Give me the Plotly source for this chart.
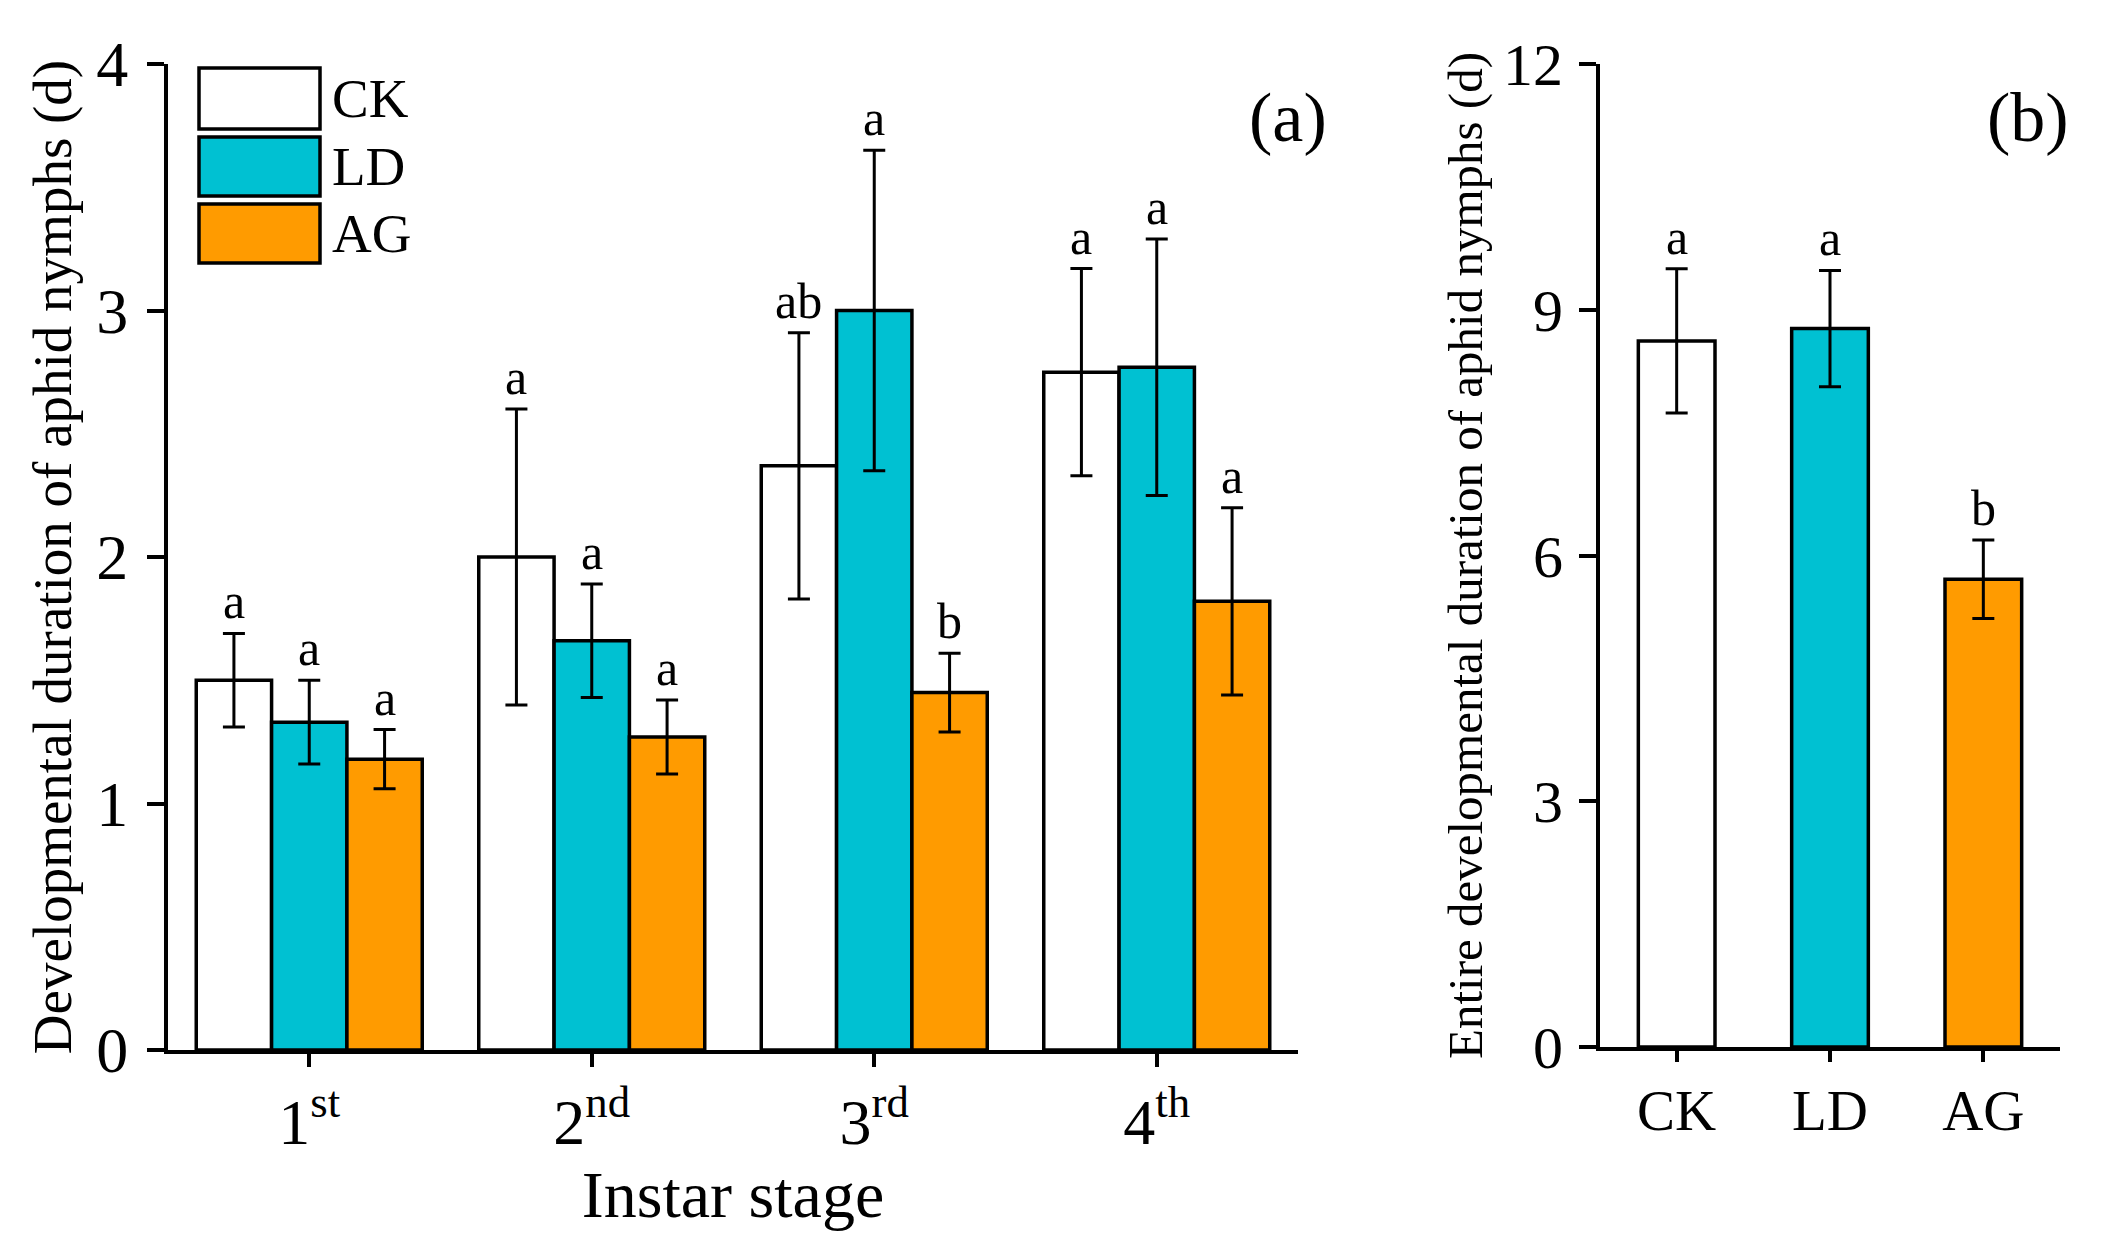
import plotly.graph_objects as go

# Panel (a): developmental duration per instar stage (mean, SE)
stages = ['1<sup>st</sup>', '2<sup>nd</sup>', '3<sup>rd</sup>', '4<sup>th</sup>']
treatments = ['CK', 'LD', 'AG']
colors = ['#FFFFFF', '#00C1D2', '#FF9B00']

ck_mean = [1.50, 2.00, 2.37, 2.75]
ck_err = [0.19, 0.60, 0.54, 0.42]
ck_letters = ['a', 'a', 'ab', 'a']

ld_mean = [1.33, 1.66, 3.00, 2.77]
ld_err = [0.17, 0.23, 0.65, 0.52]
ld_letters = ['a', 'a', 'a', 'a']

ag_mean = [1.18, 1.27, 1.45, 1.82]
ag_err = [0.12, 0.15, 0.16, 0.38]
ag_letters = ['a', 'a', 'b', 'a']

# Panel (b): entire developmental duration of nymphs
total_mean = [8.62, 8.77, 5.71]
total_err = [0.88, 0.71, 0.48]
total_letters = ['a', 'a', 'b']

FONT = 'Liberation Serif'
PAD = 8                      # page body margin of the html file
W, H = 2106 - 2 * PAD, 1253 - 2 * PAD
bargap = 0.2
bar_w = (1 - bargap) / 3


def px(x):
    return (x - PAD) / W


def py(y):
    return 1 - (y - PAD) / H


fig = go.Figure()

series = [(ck_mean, ck_err, ck_letters), (ld_mean, ld_err, ld_letters), (ag_mean, ag_err, ag_letters)]
annotations = []
for j, (m, e, lett) in enumerate(series):
    fig.add_trace(go.Bar(
        x=list(range(len(stages))), y=m, name=treatments[j],
        marker=dict(color=colors[j], line=dict(color='black', width=3.5)),
        error_y=dict(type='data', array=e, color='black', thickness=3, width=11),
        xaxis='x', yaxis='y', showlegend=False))
    # letters above the error bars
    for i in range(len(stages)):
        annotations.append(dict(
            x=i + (j - 1) * bar_w, y=m[i] + e[i], xref='x', yref='y',
            text=lett[i], showarrow=False, yanchor='bottom', yshift=2,
            font=dict(family=FONT, size=50, color='black')))

fig.add_trace(go.Bar(
    x=list(range(len(treatments))), y=total_mean, width=0.5,
    marker=dict(color=colors, line=dict(color='black', width=3.5)),
    error_y=dict(type='data', array=total_err, color='black', thickness=3, width=11),
    xaxis='x2', yaxis='y2', showlegend=False))
for i in range(len(treatments)):
    annotations.append(dict(
        x=i, y=total_mean[i] + total_err[i], xref='x2', yref='y2',
        text=total_letters[i], showarrow=False, yanchor='bottom', yshift=2,
        font=dict(family=FONT, size=50, color='black')))

# hand-made legend (large boxes as in the original)
legend_y = [(68, 129), (137, 196), (204, 263)]
shapes = []
for j, (y0, y1) in enumerate(legend_y):
    shapes.append(dict(type='rect', xref='paper', yref='paper',
                       x0=px(199), x1=px(320), y0=py(y1), y1=py(y0),
                       fillcolor=colors[j], line=dict(color='black', width=3.5)))
    annotations.append(dict(x=px(330), y=py((y0 + y1) / 2), xref='paper', yref='paper',
                            text=treatments[j], showarrow=False, xanchor='left', yanchor='middle',
                            font=dict(family=FONT, size=55, color='black')))

for label, cx in [('(a)', 1288), ('(b)', 2028)]:
    annotations.append(dict(x=px(cx), y=py(117), xref='paper', yref='paper', text=label,
                            showarrow=False, xanchor='center', yanchor='middle',
                            font=dict(family=FONT, size=70, color='black')))

axis_common = dict(showline=True, linecolor='black', linewidth=4, ticks='outside',
                   tickcolor='black', tickwidth=3.5, showgrid=False, zeroline=False,
                   automargin=False)

fig.update_layout(
    width=W, height=H,
    margin=dict(l=0, r=0, t=0, b=0),
    paper_bgcolor='white', plot_bgcolor='white',
    barmode='group', bargap=bargap, bargroupgap=0,
    font=dict(family=FONT, color='black'),
    xaxis=dict(axis_common, domain=[px(168), px(1298)], range=[-0.5, 3.5],
               tickvals=list(range(len(stages))), ticktext=stages, ticklen=13,
               tickfont=dict(size=64), anchor='y',
               title=dict(text='Instar stage', font=dict(size=66), standoff=6)),
    yaxis=dict(axis_common, domain=[py(1050), py(64)], range=[0, 4], dtick=1,
               ticklen=17, tickfont=dict(size=64), ticklabelstandoff=6, anchor='x',
               title=dict(text='Developmental duration of aphid nymphs (d)',
                          font=dict(size=55), standoff=8)),
    xaxis2=dict(axis_common, domain=[px(1600), px(2060)], range=[-0.5, 2.5],
                tickvals=list(range(len(treatments))), ticktext=treatments, ticklen=11,
                tickfont=dict(size=57), anchor='y2'),
    yaxis2=dict(axis_common, domain=[py(1047), py(64)], range=[0, 12], dtick=3,
                ticklen=17, tickfont=dict(size=60), ticklabelstandoff=4, anchor='x2',
                title=dict(text='Entire developmental duration of aphid nymphs (d)',
                           font=dict(size=49), standoff=6)),
    shapes=shapes,
    annotations=annotations,
)

fig.write_html("out.html")
